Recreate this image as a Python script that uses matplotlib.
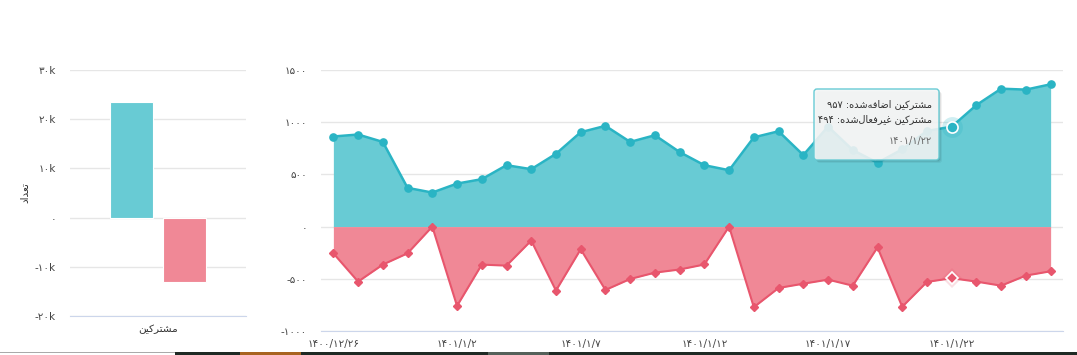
import matplotlib
matplotlib.use("Agg")
import matplotlib.pyplot as plt
from matplotlib.patches import FancyBboxPatch, Rectangle
from matplotlib.ticker import FixedLocator, FuncFormatter

# ---------------- data ----------------
dates = ['1400/12/26', '1400/12/27', '1400/12/28', '1400/12/29',
         '1401/1/1', '1401/1/2', '1401/1/3', '1401/1/4', '1401/1/5', '1401/1/6',
         '1401/1/7', '1401/1/8', '1401/1/9', '1401/1/10', '1401/1/11',
         '1401/1/12', '1401/1/13', '1401/1/14', '1401/1/15', '1401/1/16',
         '1401/1/17', '1401/1/18', '1401/1/19', '1401/1/20', '1401/1/21',
         '1401/1/22', '1401/1/23', '1401/1/24', '1401/1/25', '1401/1/26']
added = [863, 882, 811, 371, 326, 412, 454, 588, 550, 697,
         904, 965, 811, 875, 714, 588, 540, 855, 913, 685,
         958, 733, 611, 740, 916, 957, 1164, 1321, 1312, 1363]
deactivated = [-256, -527, -364, -256, 0, -760, -364, -374, -134, -613,
               -217, -607, -502, -441, -411, -363, 0, -772, -588, -547,
               -508, -566, -199, -768, -530, -494, -527, -566, -469, -428]
total_category = 'مشترکین'
total_added = 23500
total_deactivated = -13100
name_added = 'مشترکین اضافه‌شده'
name_deact = 'مشترکین غیرفعال‌شده'
y_title = 'تعداد'
tick_every = 5
hover_index = 25

# ---------------- Persian helpers ----------------
FA_DIGITS = str.maketrans('0123456789', '۰۱۲۳۴۵۶۷۸۹')
def fa(s):
    return str(s).translate(FA_DIGITS)

FORMS = {
    '\u0627': ('\uFE8D', '\uFE8E', None, None),
    '\u062A': ('\uFE95', '\uFE96', '\uFE97', '\uFE98'),
    '\u062F': ('\uFEA9', '\uFEAA', None, None),
    '\u0631': ('\uFEAD', '\uFEAE', None, None),
    '\u0634': ('\uFEB5', '\uFEB6', '\uFEB7', '\uFEB8'),
    '\u0636': ('\uFEBD', '\uFEBE', '\uFEBF', '\uFEC0'),
    '\u0639': ('\uFEC9', '\uFECA', '\uFECB', '\uFECC'),
    '\u063A': ('\uFECD', '\uFECE', '\uFECF', '\uFED0'),
    '\u0641': ('\uFED1', '\uFED2', '\uFED3', '\uFED4'),
    '\u0644': ('\uFEDD', '\uFEDE', '\uFEDF', '\uFEE0'),
    '\u0645': ('\uFEE1', '\uFEE2', '\uFEE3', '\uFEE4'),
    '\u0646': ('\uFEE5', '\uFEE6', '\uFEE7', '\uFEE8'),
    '\u0647': ('\uFEE9', '\uFEEA', '\uFEEB', '\uFEEC'),
    '\u06A9': ('\uFB8E', '\uFB8F', '\uFB90', '\uFB91'),
    '\u06CC': ('\uFBFC', '\uFBFD', '\uFBFE', '\uFBFF'),
}

def rtl(s):
    """Minimal Persian shaping + visual reordering (matplotlib has no bidi)."""
    out = []
    for i, c in enumerate(s):
        if c not in FORMS:
            if c != '\u200c':
                out.append(c)
            continue
        f = FORMS[c]
        prev = s[i - 1] if i > 0 else None
        nxt = s[i + 1] if i + 1 < len(s) else None
        jp = prev in FORMS and FORMS[prev][2] is not None
        jn = f[2] is not None and nxt in FORMS
        if jp and jn:
            out.append(f[3])
        elif jp:
            out.append(f[1])
        elif jn:
            out.append(f[2])
        else:
            out.append(f[0])
    rev = out[::-1]
    res, run = [], []
    for ch in rev:
        if ch.isdigit():
            run.append(ch)
        else:
            if run:
                res.extend(run[::-1]); run = []
            res.append(ch)
    if run:
        res.extend(run[::-1])
    return ''.join(res)

plt.rcParams['font.family'] = ['DejaVu Sans']

W, H = 1077, 355
fig = plt.figure(figsize=(W / 100, H / 100), dpi=100)
fig.patch.set_facecolor('white')

C_FILL = '#68CBD4'
C_LINE = '#2AB4C4'
R_FILL = '#F08896'
R_LINE = '#E8566D'
GRID = '#e6e6e6'
AXIS = '#ccd6eb'
TICK = '#444444'

def px_axes(x0, y0, x1, y1):
    return fig.add_axes([x0 / W, 1 - y1 / H, (x1 - x0) / W, (y1 - y0) / H])

# ---------------- left bar chart ----------------
ax1 = px_axes(70, 70, 246, 316)
ax1.set_xlim(-0.5, 0.5)
ax1.set_ylim(-20000, 30000)
ax1.bar([-0.15], [total_added], width=0.24, color=C_FILL, edgecolor='white', lw=0.8, zorder=3)
ax1.bar([0.15], [total_deactivated], width=0.24, color=R_FILL, edgecolor='white', lw=0.8, zorder=3)
ax1.yaxis.set_major_locator(FixedLocator([-20000, -10000, 0, 10000, 20000, 30000]))
ax1.yaxis.set_major_formatter(FuncFormatter(
    lambda v, p: '۰' if v == 0 else fa(f"{int(v / 1000)}k")))
ax1.set_xticks([0])
ax1.set_xticklabels([rtl(total_category)])
ax1.grid(axis='y', color=GRID, lw=1, zorder=0)
for s in ['top', 'right', 'left']:
    ax1.spines[s].set_visible(False)
ax1.spines['bottom'].set_color(AXIS)
ax1.tick_params(axis='both', length=0, labelsize=7.5, colors=TICK)
ax1.tick_params(axis='y', pad=10)
ax1.tick_params(axis='x', pad=6, labelsize=7.5, labelcolor='#333333')
fig.text(25 / W, 1 - 193 / H, rtl(y_title), rotation=90, ha='center', va='center',
         fontsize=7.5, color='#333333')

# ---------------- right area chart ----------------
ax2 = px_axes(321, 70, 1063, 331)
x = list(range(len(dates)))
ax2.set_xlim(-0.5, len(dates) - 0.5)
ax2.set_ylim(-1000, 1500)
ax2.fill_between(x, 0, added, color=C_FILL, lw=0, zorder=2)
ax2.fill_between(x, 0, deactivated, color=R_FILL, lw=0, zorder=2)
ax2.plot(x, added, color=C_LINE, lw=1.8, marker='o', ms=5.2, mec=C_LINE, zorder=4)
ax2.plot(x, deactivated, color=R_LINE, lw=1.5, marker='D', ms=3.6, mec=R_LINE, zorder=4)
# hover state
hx = x[hover_index]
ax2.plot([hx], [added[hover_index]], marker='o', ms=15, color=C_LINE, alpha=0.22, mew=0, zorder=5)
ax2.plot([hx], [added[hover_index]], marker='o', ms=8, color=C_LINE, mec='white', mew=1.2, zorder=6)
ax2.plot([hx], [deactivated[hover_index]], marker='D', ms=10, color=R_LINE, alpha=0.18, mew=0, zorder=5)
ax2.plot([hx], [deactivated[hover_index]], marker='D', ms=6, color=R_LINE, mec='white', mew=1.2, zorder=6)

ax2.yaxis.set_major_locator(FixedLocator([-1000, -500, 0, 500, 1000, 1500]))
ax2.yaxis.set_major_formatter(FuncFormatter(lambda v, p: fa(int(v))))
ticks = x[::tick_every]
ax2.set_xticks(ticks)
ax2.set_xticklabels([fa(dates[i]) for i in ticks])
ax2.grid(axis='y', color=GRID, lw=1, zorder=0)
for s in ['top', 'right', 'left']:
    ax2.spines[s].set_visible(False)
ax2.spines['bottom'].set_color(AXIS)
ax2.tick_params(axis='both', length=0, labelsize=7.5, colors=TICK)
ax2.tick_params(axis='y', pad=10)
ax2.tick_params(axis='x', pad=6)

# ---------------- tooltip ----------------
tx0, ty0, tw, th = 814, 89, 125, 71
for off, a in [(3, 0.05), (2, 0.07), (1, 0.1)]:
    fig.add_artist(FancyBboxPatch(((tx0 + off) / 100, (H - ty0 - th - off) / 100), tw / 100, th / 100,
                                  boxstyle='round,pad=0,rounding_size=0.03',
                                  transform=fig.dpi_scale_trans, fc='black', ec='none', alpha=a, zorder=9))
fig.add_artist(FancyBboxPatch((tx0 / 100, (H - ty0 - th) / 100), tw / 100, th / 100,
                              boxstyle='round,pad=0,rounding_size=0.03',
                              transform=fig.dpi_scale_trans, fc=(0.97, 0.975, 0.975, 0.88),
                              ec='#68CBD4', lw=1, zorder=10))
fig.text(932 / W, 1 - 104 / H, rtl(f"{name_added}: {fa(added[hover_index])}"),
         ha='right', va='center', fontsize=7, color='#333333', zorder=11)
fig.text(932 / W, 1 - 119 / H, rtl(f"{name_deact}: {fa(-deactivated[hover_index])}"),
         ha='right', va='center', fontsize=7, color='#333333', zorder=11)
fig.text(932 / W, 1 - 141 / H, fa(dates[hover_index]),
         ha='right', va='center', fontsize=7, color='#666666', zorder=11)

# ---------------- page edge strip ----------------
fig.add_artist(Rectangle((0, 2.5 / H), 175 / W, 1 / H, transform=fig.transFigure, fc='#aaaaaa', ec='none'))
fig.add_artist(Rectangle((175 / W, 0), 1 - 175 / W, 3 / H, transform=fig.transFigure, fc='#1f2a24', ec='none'))
fig.add_artist(Rectangle((240 / W, 0), 61 / W, 3 / H, transform=fig.transFigure, fc='#a86420', ec='none'))
fig.add_artist(Rectangle((488 / W, 0), 61 / W, 3 / H, transform=fig.transFigure, fc='#55615a', ec='none'))

fig.savefig('out.png', dpi=100)
